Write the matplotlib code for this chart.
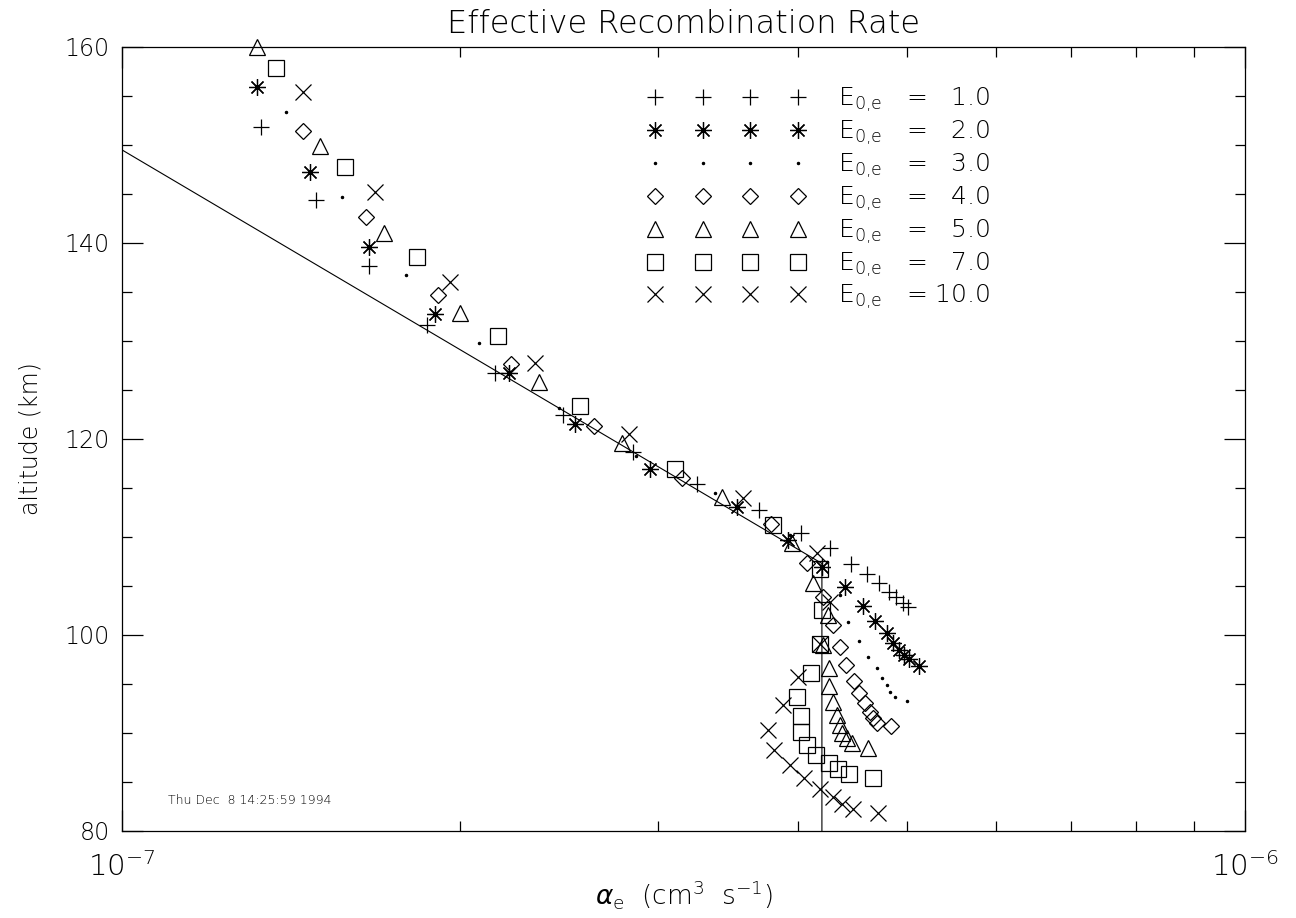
import matplotlib
matplotlib.use("Agg")
import matplotlib.pyplot as plt
from matplotlib.ticker import MultipleLocator, LogLocator, NullFormatter

plt.rcParams["font.family"] = ["DejaVu Sans"]
plt.rcParams["font.weight"] = "light"
plt.rcParams["axes.titleweight"] = "light"
plt.rcParams["axes.labelweight"] = "light"
plt.rcParams["mathtext.fontset"] = "custom"
plt.rcParams["mathtext.rm"] = "DejaVu Sans:light"
plt.rcParams["mathtext.it"] = "DejaVu Sans:italic"
plt.rcParams["mathtext.bf"] = "DejaVu Sans:bold"

# --- data (alpha in units of 1e-7 cm^3 s^-1, altitude in km) ---
E0_labels = ["1.0", "2.0", "3.0", "4.0", "5.0", "7.0", "10.0"]

a_e1 = [1.33, 1.49, 1.66, 1.87, 2.15, 2.47, 2.85, 3.25, 3.69, 4.02, 4.27,
        4.46, 4.61, 4.72, 4.82, 4.89, 4.96, 5.01]
h_e1 = [151.8, 144.4, 137.7, 131.6, 126.7, 122.4, 118.7, 115.4, 112.8, 110.4, 108.9,
        107.2, 106.2, 105.3, 104.4, 103.9, 103.3, 102.9]

a_e2 = [1.32, 1.47, 1.66, 1.90, 2.21, 2.53, 2.95, 3.53, 3.92, 4.20, 4.40,
        4.57, 4.68, 4.80, 4.86, 4.92, 4.97, 5.02, 5.13]
h_e2 = [155.9, 147.2, 139.6, 132.8, 126.7, 121.5, 116.9, 113.1, 109.7, 106.9, 104.9,
        103.0, 101.4, 100.2, 99.2, 98.5, 98.0, 97.6, 96.8]

a_e3 = [1.40, 1.57, 1.79, 2.08, 2.45, 2.87, 3.37, 3.93, 4.24, 4.36, 4.43,
        4.53, 4.62, 4.70, 4.75, 4.80, 4.83, 4.88, 5.00]
h_e3 = [153.4, 144.7, 136.7, 129.8, 123.2, 118.3, 114.5, 110.2, 107.4, 104.1, 101.3,
        99.4, 97.8, 96.6, 95.6, 94.9, 94.2, 93.7, 93.3]

a_e4 = [1.45, 1.65, 1.91, 2.22, 2.63, 3.15, 3.78, 4.07, 4.21, 4.30, 4.36,
        4.41, 4.49, 4.53, 4.59, 4.64, 4.66, 4.70, 4.84]
h_e4 = [151.4, 142.7, 134.7, 127.7, 121.3, 116.0, 111.3, 107.3, 103.9, 101.0, 98.8,
        96.9, 95.3, 94.1, 93.1, 92.1, 91.5, 91.0, 90.7]

a_e5 = [1.32, 1.50, 1.71, 2.00, 2.35, 2.79, 3.42, 3.95, 4.12, 4.25, 4.21,
        4.26, 4.26, 4.30, 4.33, 4.36, 4.38, 4.42, 4.47, 4.62]
h_e5 = [160.0, 149.9, 141.0, 132.9, 125.8, 119.6, 114.1, 109.4, 105.3, 102.0, 99.0,
        96.6, 94.8, 93.2, 91.8, 90.8, 90.0, 89.5, 89.0, 88.5]

a_e7 = [1.37, 1.58, 1.83, 2.16, 2.56, 3.11, 3.80, 4.18, 4.20, 4.18, 4.11,
        3.99, 4.02, 4.02, 4.07, 4.15, 4.26, 4.34, 4.44, 4.66]
h_e7 = [157.9, 147.8, 138.6, 130.5, 123.4, 116.9, 111.2, 106.7, 102.6, 99.1, 96.1,
        93.7, 91.7, 90.1, 88.8, 87.8, 86.9, 86.3, 85.8, 85.4]

a_e10 = [1.45, 1.68, 1.96, 2.33, 2.83, 3.57, 4.16, 4.27, 4.18, 4.00, 3.88,
         3.76, 3.81, 3.93, 4.05, 4.18, 4.30, 4.38, 4.48, 4.71]
h_e10 = [155.4, 145.2, 136.0, 127.8, 120.5, 114.0, 108.4, 103.4, 99.1, 95.7, 92.9,
         90.3, 88.3, 86.7, 85.4, 84.3, 83.5, 82.8, 82.2, 81.8]

# reference curve
a_line = [1.0, 4.2, 4.2]
h_line = [149.5, 107.3, 80.0]

series = [(a_e1, h_e1), (a_e2, h_e2), (a_e3, h_e3), (a_e4, h_e4),
          (a_e5, h_e5), (a_e7, h_e7), (a_e10, h_e10)]
markers = ["+", (8, 2, 0), "o", "D", "^", "s", "x"]
msizes = [12, 12, 1.6, 8.5, 12, 12, 11]

fig = plt.figure(figsize=(12.96, 9.18), dpi=100)
ax = fig.add_axes([122/1296, 87/918, 1123/1296, 784/918])

ax.plot([a * 1e-7 for a in a_line], h_line, color="black", lw=0.8)

for (a, h), m, ms, lab in zip(series, markers, msizes, E0_labels):
    filled = m == "o"
    ax.plot([v * 1e-7 for v in a], h, linestyle="none", marker=m, ms=ms,
            mew=0.9, mec="black", mfc="black" if filled else "none",
            clip_on=False,
            label=r"E$_{\mathrm{0{,}e}}$   = " + ("\u2007" if len(lab) < 4 else "") + lab)

ax.set_xscale("log")
ax.set_xlim(1e-7, 1e-6)
ax.set_ylim(80, 160)

ax.yaxis.set_major_locator(MultipleLocator(20))
ax.yaxis.set_minor_locator(MultipleLocator(5))
ax.xaxis.set_major_locator(LogLocator(base=10))
ax.xaxis.set_minor_locator(LogLocator(base=10, subs=range(2, 10)))
ax.xaxis.set_minor_formatter(NullFormatter())

ax.tick_params(which="both", direction="in", top=True, right=True, width=0.9)
ax.tick_params(which="major", length=15, labelsize=17, pad=9)
ax.tick_params(which="minor", length=7)
ax.tick_params(axis="x", which="major", pad=15, labelsize=21)
for sp in ax.spines.values():
    sp.set_linewidth(0.9)

ax.set_title("Effective Recombination Rate", fontsize=23, pad=10)
ax.set_ylabel("altitude (km)", fontsize=17, labelpad=16)
ax.set_xlabel(r"$\alpha_{\mathrm{e}}$  (cm$^{3}$  s$^{-1}$)", fontsize=19, labelpad=-3)

ax.text(0.041, 0.04, "Thu Dec  8 14:25:59 1994", transform=ax.transAxes,
        fontsize=9, ha="left", va="center")

ax.legend(loc="upper left", bbox_to_anchor=(0.468, 0.95), frameon=False,
          numpoints=4, handlelength=6.3, handletextpad=1.3, labelspacing=0.19,
          fontsize=18, borderaxespad=0, borderpad=0)

fig.savefig("out.png", dpi=100)
